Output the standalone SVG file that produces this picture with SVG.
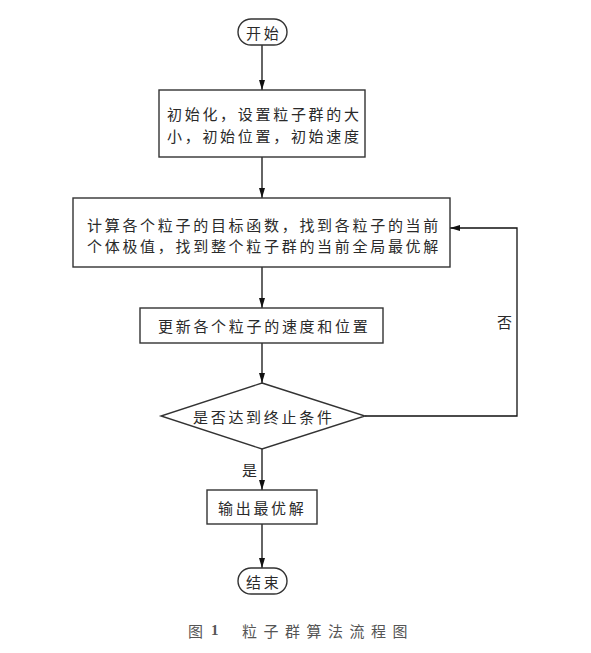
<svg xmlns="http://www.w3.org/2000/svg" width="591" height="653" viewBox="0 0 591 653">
<style>
.box{fill:#fff;stroke:#333;stroke-width:1.4}
.t{font-family:"Noto Sans CJK SC","Noto Sans",sans-serif;font-size:15px;fill:#2a2a2a;letter-spacing:2.7px;dominant-baseline:central}
.c{fill:none;stroke:#111;stroke-width:1.3}
.cap{font-family:"Noto Sans CJK SC","Noto Sans",sans-serif;font-size:15px;fill:#555;dominant-baseline:central}
</style>
<defs>
<marker id="ah" markerWidth="10" markerHeight="8" refX="10" refY="4" orient="auto" markerUnits="userSpaceOnUse">
<path d="M0,1 L10,4 L0,7 Z" fill="#111"/>
</marker>
</defs>
<rect width="591" height="653" fill="#fff"/>
<g id="connectors">
<path class="c" d="M262,45 V90" marker-end="url(#ah)"/>
<path class="c" d="M262,157 V198" marker-end="url(#ah)"/>
<path class="c" d="M262,267 V308" marker-end="url(#ah)"/>
<path class="c" d="M262,343 V383" marker-end="url(#ah)"/>
<path class="c" d="M365,416 H517 V228 H450" marker-end="url(#ah)"/>
<path class="c" d="M262,449 V490" marker-end="url(#ah)"/>
<path class="c" d="M262,524 V568" marker-end="url(#ah)"/>
<text class="t" x="497" y="321">否</text>
<text class="t" x="242" y="469">是</text>
</g>
<g id="start">
<rect class="box" x="238" y="19" width="49" height="26" rx="13"/>
<text class="t" x="246" y="32">开始</text>
</g>
<g id="init">
<rect class="box" x="159" y="90" width="206" height="67"/>
<text class="t" x="167" y="113">初始化，设置粒子群的大</text>
<text class="t" x="167" y="135">小，初始位置，初始速度</text>
</g>
<g id="compute">
<rect class="box" x="73" y="198" width="377" height="69"/>
<text class="t" x="87" y="224">计算各个粒子的目标函数，找到各粒子的当前</text>
<text class="t" x="87" y="245">个体极值，找到整个粒子群的当前全局最优解</text>
</g>
<g id="update">
<rect class="box" x="140" y="308" width="243" height="35"/>
<text class="t" x="158" y="325">更新各个粒子的速度和位置</text>
</g>
<g id="decision">
<path class="box" d="M262,383 L365,416 L262,449 L161,416 Z"/>
<text class="t" x="193" y="416">是否达到终止条件</text>
</g>
<g id="output">
<rect class="box" x="207" y="490" width="110" height="34"/>
<text class="t" x="218" y="507">输出最优解</text>
</g>
<g id="end">
<rect class="box" x="238" y="568" width="49" height="26" rx="13"/>
<text class="t" x="246" y="581">结束</text>
</g>
<g id="caption">
<text class="cap" x="188" y="630">图</text>
<text class="cap" x="211" y="630" font-weight="bold" style="font-family:'Liberation Serif',serif">1</text>
<text class="cap" x="242" y="630" letter-spacing="6.5">粒子群算法流程图</text>
</g>
</svg>
